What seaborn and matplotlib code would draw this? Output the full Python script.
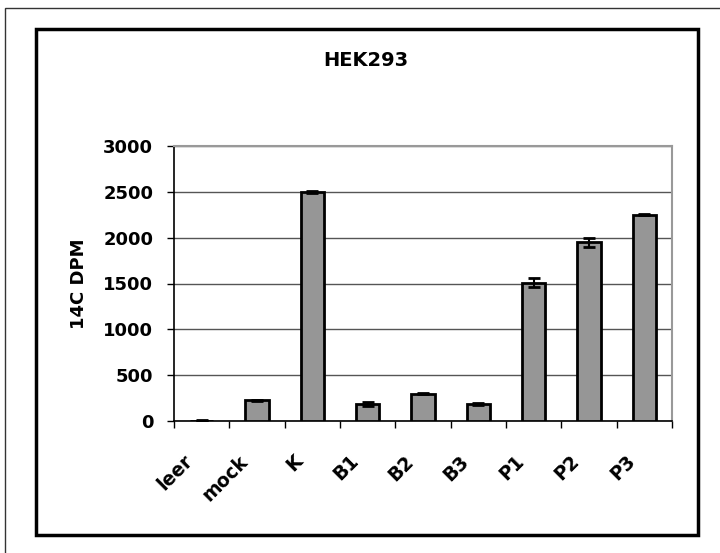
import matplotlib
matplotlib.use("Agg")
import matplotlib.pyplot as plt
import matplotlib.transforms as mtransforms
import seaborn as sns
import numpy as np
import pandas as pd
from matplotlib.patches import Rectangle

categories = ["leer", "mock", "K", "B1", "B2", "B3", "P1", "P2", "P3"]
values = [5, 225, 2495, 190, 300, 190, 1510, 1950, 2250]
errors = [3, 8, 10, 22, 10, 10, 50, 50, 5]
yticks = [0, 500, 1000, 1500, 2000, 2500, 3000]

sns.set_theme(style="white")
plt.rcParams["font.family"] = ["DejaVu Sans"]
plt.rcParams["font.weight"] = "bold"
plt.rcParams["text.color"] = "black"
plt.rcParams["axes.labelcolor"] = "black"
plt.rcParams["xtick.color"] = "black"
plt.rcParams["ytick.color"] = "black"

W, H = 720, 553
fig = plt.figure(figsize=(W / 100, H / 100), dpi=100)
ax = fig.add_axes([174 / W, 1 - 421 / H, (672 - 174) / W, (421 - 146) / H])

df = pd.DataFrame({"cat": categories, "val": values})
sns.barplot(data=df, x="cat", y="val", order=categories, color="#969696",
            saturation=1, width=0.42, edgecolor="black", linewidth=2,
            errorbar=None, ax=ax, zorder=3)
ax.errorbar(np.arange(len(categories)), values, yerr=errors, fmt="none",
            ecolor="black", elinewidth=1.5, capsize=4, capthick=2, zorder=4)

ax.set_xlim(-0.5, len(categories) - 0.5)
ax.set_ylim(0, 3000)
ax.set_yticks(yticks)
ax.set_yticklabels([str(t) for t in yticks], fontsize=13, fontweight="bold", color="black")
ax.yaxis.grid(True, color="#555555", linewidth=1)
ax.set_axisbelow(True)

ax.set_xticks(np.arange(len(categories)))
ax.set_xticklabels(categories, rotation=45, ha="right", rotation_mode="anchor",
                   fontsize=13.5, fontweight="bold", color="black")
ax.tick_params(axis="x", length=0, pad=22)
ax.tick_params(axis="y", length=5, width=1, color="black", direction="out", left=True, pad=10)
offset = mtransforms.ScaledTranslation(-19 / 100, 0, fig.dpi_scale_trans)
for lab in ax.get_xticklabels():
    lab.set_transform(lab.get_transform() + offset)
# minor ticks at category boundaries (Excel style)
ax.set_xticks(np.arange(-0.5, len(categories)), minor=True)
ax.tick_params(axis="x", which="minor", length=5, width=1, color="black", direction="out", bottom=True)

for s in ["left", "bottom"]:
    ax.spines[s].set_color("black")
    ax.spines[s].set_linewidth(1.2)
for s in ["top", "right"]:
    ax.spines[s].set_color("#999999")
    ax.spines[s].set_linewidth(1.5)
    ax.spines[s].set_visible(True)

ax.set_xlabel("")
ax.set_ylabel("14C DPM", fontsize=13, fontweight="bold", labelpad=11, color="black")

fig.text(366 / W, 1 - 60 / H, "HEK293", ha="center", va="center",
         fontsize=14, fontweight="bold", color="black")

# inner thick frame
fig.patches.append(Rectangle((36 / W, 1 - 535 / H), (698 - 36) / W, (535 - 29) / H,
                             transform=fig.transFigure, fill=False,
                             edgecolor="black", linewidth=2.5, zorder=0))
# outer thin frame (top and left visible)
fig.patches.append(Rectangle((5 / W, -0.1), 1.2, 1.1 - 8 / H,
                             transform=fig.transFigure, fill=False,
                             edgecolor="#333333", linewidth=1, zorder=0))

fig.savefig("out.png", dpi=100)
